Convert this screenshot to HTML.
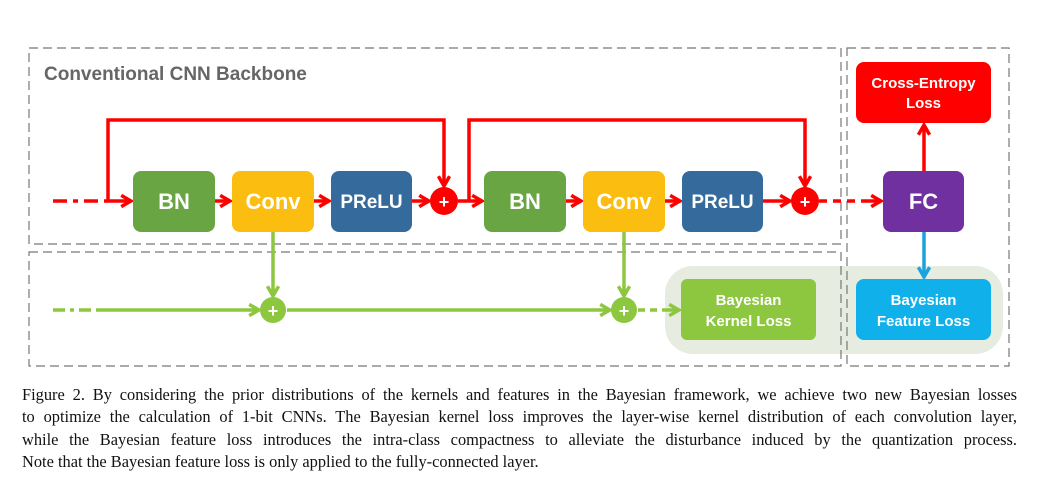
<!DOCTYPE html>
<html><head><meta charset="utf-8"><style>
body{margin:0;width:1039px;height:490px;background:#fff;overflow:hidden;position:relative}
svg{position:absolute;left:0;top:0}
.cap{position:absolute;left:22px;width:995px;font-family:"Liberation Serif",serif;font-size:16.4px;color:#111;line-height:22.4px;top:384px}
.cap div{text-align:justify;text-align-last:justify;white-space:nowrap;height:22.4px}
.cap div.l{text-align-last:left}
</style></head><body>
<svg width="1039" height="380" font-family="Liberation Sans, sans-serif" font-weight="bold">
<defs>
<marker id="ar" viewBox="0 0 10 10" refX="8" refY="5" markerWidth="4" markerHeight="4" orient="auto"><path d="M1,1 L8,5 L1,9" fill="none" stroke="#f00" stroke-width="2.5"/></marker>
<marker id="ag" viewBox="0 0 10 10" refX="8" refY="5" markerWidth="4" markerHeight="4" orient="auto"><path d="M1,1 L8,5 L1,9" fill="none" stroke="#8dc63f" stroke-width="2.5"/></marker>
<marker id="ab" viewBox="0 0 10 10" refX="8" refY="5" markerWidth="4" markerHeight="4" orient="auto"><path d="M1,1 L8,5 L1,9" fill="none" stroke="#1aa3dd" stroke-width="2.5"/></marker>
</defs>
<rect x="665" y="266" width="338" height="88" rx="28" fill="#e6ece0"/>
<g fill="none" stroke="#777" stroke-width="1.2" stroke-dasharray="9,5">
<rect x="29" y="48" width="812" height="196"/>
<rect x="29" y="252" width="812" height="114"/>
<rect x="847" y="48" width="162" height="318"/>
</g>
<text x="44" y="80" font-size="19" fill="#666">Conventional CNN Backbone</text>
<g stroke="#f00" stroke-width="3.5" fill="none">
<line x1="53" y1="201" x2="108" y2="201" stroke-dasharray="14,6,5,6"/>
<path d="M108,201 H131" marker-end="url(#ar)"/>
<path d="M108,201 V120 H444 V186" marker-end="url(#ar)"/>
<path d="M215,201 H230" marker-end="url(#ar)"/>
<path d="M314,201 H329" marker-end="url(#ar)"/>
<path d="M412,201 H429" marker-end="url(#ar)"/>
<path d="M458,201 H482" marker-end="url(#ar)"/>
<path d="M469,201 V120 H805 V186" marker-end="url(#ar)"/>
<path d="M566,201 H581" marker-end="url(#ar)"/>
<path d="M665,201 H680" marker-end="url(#ar)"/>
<path d="M763,201 H790" marker-end="url(#ar)"/>
<line x1="819" y1="201" x2="868" y2="201" stroke-dasharray="8,6"/>
<path d="M868,201 H881" marker-end="url(#ar)"/>
<path d="M924,171 V125" marker-end="url(#ar)"/>
</g>
<g stroke="#8dc63f" stroke-width="3.5" fill="none">
<line x1="53" y1="310" x2="96" y2="310" stroke-dasharray="12,5,4,5"/>
<path d="M96,310 H259" marker-end="url(#ag)"/>
<path d="M273,232 V296" marker-end="url(#ag)"/>
<path d="M287,310 H610" marker-end="url(#ag)"/>
<path d="M624,232 V296" marker-end="url(#ag)"/>
<line x1="638" y1="310" x2="668" y2="310" stroke-dasharray="7,5"/>
<path d="M668,310 H679" marker-end="url(#ag)"/>
</g>
<path d="M924,232 V277" stroke="#1aa3dd" stroke-width="3.5" fill="none" marker-end="url(#ab)"/>
<g font-size="22" fill="#fff" text-anchor="middle">
<rect x="133" y="171" width="82" height="61" rx="8" fill="#6aa543"/><text x="174" y="209">BN</text>
<rect x="232" y="171" width="82" height="61" rx="8" fill="#fbbd0f"/><text x="273" y="209">Conv</text>
<rect x="331" y="171" width="81" height="61" rx="8" fill="#346a9c"/><text x="371.5" y="208" font-size="19">PReLU</text>
<rect x="484" y="171" width="82" height="61" rx="8" fill="#6aa543"/><text x="525" y="209">BN</text>
<rect x="583" y="171" width="82" height="61" rx="8" fill="#fbbd0f"/><text x="624" y="209">Conv</text>
<rect x="682" y="171" width="81" height="61" rx="8" fill="#346a9c"/><text x="722.5" y="208" font-size="19">PReLU</text>
<rect x="883" y="171" width="81" height="61" rx="8" fill="#7030a0"/><text x="923.5" y="209">FC</text>
<rect x="856" y="62" width="135" height="61" rx="8" fill="#f00"/>
<text x="923.5" y="88" font-size="15">Cross-Entropy</text><text x="923.5" y="108" font-size="15">Loss</text>
<rect x="856" y="279" width="135" height="61" rx="8" fill="#10b0ea"/>
<text x="923.5" y="305" font-size="15">Bayesian</text><text x="923.5" y="326" font-size="15">Feature Loss</text>
<rect x="681" y="279" width="135" height="61" rx="6" fill="#8dc63f"/>
<text x="748.5" y="305" font-size="15">Bayesian</text><text x="748.5" y="326" font-size="15">Kernel Loss</text>
<circle cx="444" cy="201" r="14" fill="#f00"/><text x="444" y="208" font-size="18">+</text>
<circle cx="805" cy="201" r="14" fill="#f00"/><text x="805" y="208" font-size="18">+</text>
<circle cx="273" cy="310" r="13" fill="#8dc63f"/><text x="273" y="317" font-size="18">+</text>
<circle cx="624" cy="310" r="13" fill="#8dc63f"/><text x="624" y="317" font-size="18">+</text>
</g>
</svg>
<div class="cap">
<div>Figure 2. By considering the prior distributions of the kernels and features in the Bayesian framework, we achieve two new Bayesian losses</div>
<div>to optimize the calculation of 1-bit CNNs. The Bayesian kernel loss improves the layer-wise kernel distribution of each convolution layer,</div>
<div>while the Bayesian feature loss introduces the intra-class compactness to alleviate the disturbance induced by the quantization process.</div>
<div class="l">Note that the Bayesian feature loss is only applied to the fully-connected layer.</div>
</div>
</body></html>
